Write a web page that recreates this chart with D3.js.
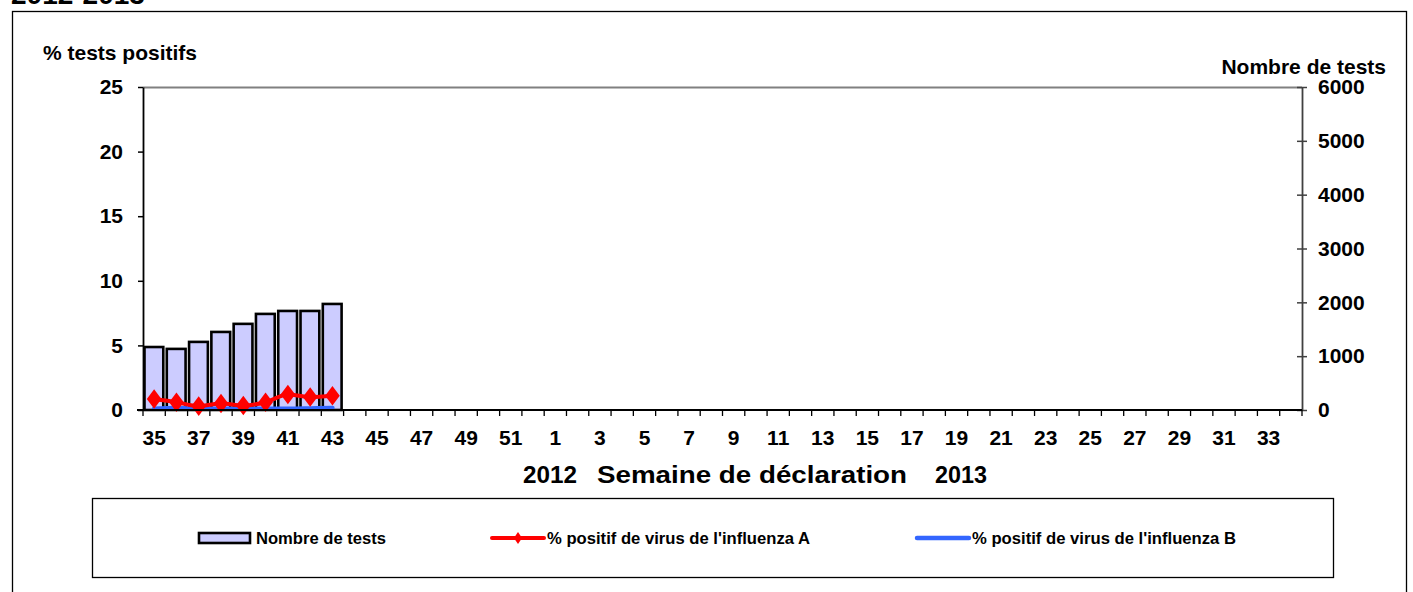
<!DOCTYPE html>
<html><head><meta charset="utf-8">
<script src="https://cdn.jsdelivr.net/npm/d3@7"></script>
<style>body{margin:0;background:#fff}svg{display:block;font-family:Arial,"Liberation Sans",sans-serif}</style>
</head><body><svg id="c" width="1413" height="592"></svg>
<script>
const weeks = [35,36,37,38,39,40,41,42,43,44,45,46,47,48,49,50,51,52,1,2,3,4,5,6,7,8,9,10,11,12,13,14,15,16,17,18,19,20,21,22,23,24,25,26,27,28,29,30,31,32,33,34];
const tickWeeks = [35,37,39,41,43,45,47,49,51,1,3,5,7,9,11,13,15,17,19,21,23,25,27,29,31,33];
const testCounts = [1170,1135,1265,1450,1600,1785,1840,1840,1970];
const pctA = [0.85,0.6,0.3,0.5,0.35,0.6,1.2,1.0,1.1];
const pctB = [0.1,0.15,0.1,0.1,0.1,0.1,0.1,0.12,0.15];
const leftTicks = [0,5,10,15,20,25];
const rightTicks = [0,1000,2000,3000,4000,5000,6000];

const svg = d3.select("#c");
const L=143,R=1302,T=87,B=410;
const xb = d3.scaleBand().domain(weeks.map((w,i)=>i)).range([L,R]);
const yL = d3.scaleLinear().domain([0,25]).range([B,T]);
const yR = d3.scaleLinear().domain([0,6000]).range([B,T]);

// outer frame
svg.append("rect").attr("x",12.5).attr("y",11.5).attr("width",1394).attr("height",600).attr("fill","none").attr("stroke","#000").attr("stroke-width",1.3);
svg.append("text").attr("x",11).attr("y",4).attr("font-size",28).attr("font-weight","bold").text("2012-2013");

// top border
svg.append("line").attr("x1",L).attr("x2",R).attr("y1",T+0.5).attr("y2",T+0.5).attr("stroke","#808080").attr("stroke-width",2);

// bars
svg.append("g").selectAll("rect").data(testCounts).join("rect")
  .attr("x",(d,i)=>xb(i)+1.5).attr("width",xb.bandwidth()-3.5)
  .attr("y",d=>yR(d)).attr("height",d=>B-yR(d))
  .attr("fill","#ccccff").attr("stroke","#000").attr("stroke-width",2.6);

// lines
const lineF = d3.line().x((d,i)=>xb(i)+xb.bandwidth()/2).y(d=>yL(d)).curve(d3.curveMonotoneX);
svg.append("path").attr("d",lineF(pctB)).attr("fill","none").attr("stroke","#3366ff").attr("stroke-width",4.5).attr("stroke-linecap","round");
svg.append("path").attr("d",lineF(pctA)).attr("fill","none").attr("stroke","#ff0000").attr("stroke-width",4).attr("stroke-linecap","round");
const diamond = d3.symbol().type(d3.symbolDiamond).size(110);
svg.append("g").selectAll("path").data(pctA).join("path")
  .attr("transform",(d,i)=>`translate(${xb(i)+xb.bandwidth()/2},${yL(d)}) scale(1.3,1)`)
  .attr("d",diamond).attr("fill","#ff0000");

const tickFont = g => g.attr("font-size",21).attr("font-weight","bold").attr("fill","#000").attr("font-family","Arial,'Liberation Sans',sans-serif");

// left axis
const gl = svg.append("g").attr("transform",`translate(${L},0)`)
  .call(d3.axisLeft(yL).tickValues(leftTicks).tickSize(5).tickSizeOuter(0));
gl.select(".domain").attr("stroke","#000").attr("stroke-width",1.8);
gl.selectAll(".tick line").attr("stroke","#000").attr("stroke-width",1.5);
gl.selectAll(".tick text").attr("x",-20).call(tickFont);

// right axis
const gr = svg.append("g").attr("transform",`translate(${R},0)`)
  .call(d3.axisRight(yR).tickValues(rightTicks).tickFormat(d3.format("d")).tickSize(0).tickSizeOuter(0));
gr.select(".domain").attr("stroke","#404040").attr("stroke-width",1.8);
gr.selectAll(".tick line").attr("x1",-5).attr("x2",5).attr("stroke","#404040").attr("stroke-width",1.5);
gr.selectAll(".tick text").attr("x",16).call(tickFont);

// bottom axis
svg.append("line").attr("x1",L-6).attr("x2",R).attr("y1",B).attr("y2",B).attr("stroke","#000").attr("stroke-width",1.8);
svg.append("g").selectAll("line").data(d3.range(weeks.length+1)).join("line")
  .attr("x1",i=>L+i*xb.step()).attr("x2",i=>L+i*xb.step()).attr("y1",B).attr("y2",B+6)
  .attr("stroke","#000").attr("stroke-width",1.3);
svg.append("g").selectAll("text").data(weeks.map((w,i)=>({w,i})).filter(d=>tickWeeks.includes(d.w))).join("text")
  .attr("x",d=>xb(d.i)+xb.bandwidth()/2).attr("y",445).attr("text-anchor","middle")
  .call(tickFont).text(d=>d.w);

// axis titles
svg.append("text").attr("x",43).attr("y",60).attr("font-size",21).attr("font-weight","bold").text("% tests positifs");
svg.append("text").attr("x",1386).attr("y",74).attr("text-anchor","end").attr("font-size",21).attr("font-weight","bold").text("Nombre de tests");
const xt = svg.append("g").attr("font-size",23).attr("font-weight","bold");
xt.append("text").attr("x",523).attr("y",483).attr("textLength",54).attr("lengthAdjust","spacingAndGlyphs").text("2012");
xt.append("text").attr("x",597).attr("y",483).attr("textLength",310).attr("lengthAdjust","spacingAndGlyphs").text("Semaine de déclaration");
xt.append("text").attr("x",935).attr("y",483).attr("textLength",52).attr("lengthAdjust","spacingAndGlyphs").text("2013");

// legend
svg.append("rect").attr("x",92.5).attr("y",498.5).attr("width",1241).attr("height",79).attr("fill","#fff").attr("stroke","#000").attr("stroke-width",1.3);
const lg = svg.append("g").attr("font-size",17).attr("font-weight","bold");
lg.append("rect").attr("x",199).attr("y",533).attr("width",51).attr("height",10).attr("fill","#ccccff").attr("stroke","#000").attr("stroke-width",2.6);
lg.append("text").attr("x",256).attr("y",544).attr("textLength",130).attr("lengthAdjust","spacingAndGlyphs").text("Nombre de tests");
lg.append("line").attr("x1",492).attr("x2",544).attr("y1",538).attr("y2",538).attr("stroke","#ff0000").attr("stroke-width",4).attr("stroke-linecap","round");
lg.append("path").attr("transform","translate(518,538) scale(1.2,1)").attr("d",d3.symbol().type(d3.symbolDiamond).size(40)).attr("fill","#ff0000");
lg.append("text").attr("x",547).attr("y",544).attr("textLength",263).attr("lengthAdjust","spacingAndGlyphs").text("% positif de virus de l'influenza A");
lg.append("line").attr("x1",917).attr("x2",969).attr("y1",538).attr("y2",538).attr("stroke","#3366ff").attr("stroke-width",4.5).attr("stroke-linecap","round");
lg.append("text").attr("x",972).attr("y",544).attr("textLength",264).attr("lengthAdjust","spacingAndGlyphs").text("% positif de virus de l'influenza B");
</script></body></html>
